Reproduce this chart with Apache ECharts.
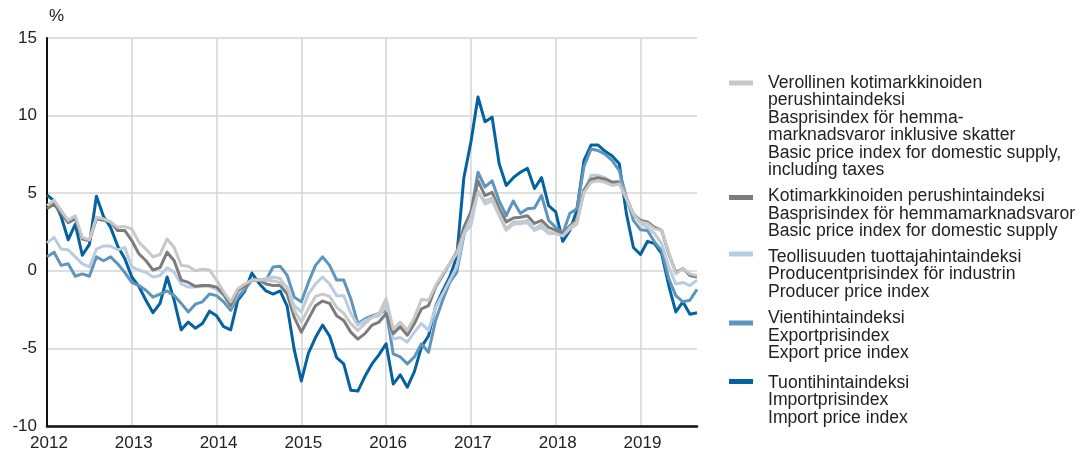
<!DOCTYPE html>
<html>
<head>
<meta charset="utf-8">
<script src="https://cdn.jsdelivr.net/npm/echarts@6/dist/echarts.min.js"></script>
<style>
html,body{margin:0;padding:0;background:#fff;}
#chart{width:1089px;height:455px;}
</style>
</head>
<body>
<div id="chart"></div>
<script>
// Tick labels (years) and y ticks
var years = ['2012','2013','2014','2015','2016','2017','2018','2019'];
var monthCount = 93; // Jan 2012 .. Sep 2019
var yMin = -10, yMax = 15, yStep = 5;

// Legend texts
var legendTexts = [
  'Verollinen kotimarkkinoiden\nperushintaindeksi\nBasprisindex för hemma-\nmarknadsvaror inklusive skatter\nBasic price index for domestic supply,\nincluding taxes',
  'Kotimarkkinoiden perushintaindeksi\nBasprisindex för hemmamarknadsvaror\nBasic price index for domestic supply',
  'Teollisuuden tuottajahintaindeksi\nProducentprisindex för industrin\nProducer price index',
  'Vientihintaindeksi\nExportprisindex\nExport price index',
  'Tuontihintaindeksi\nImportprisindex\nImport price index'
];

// Series values (% annual change), monthly
var domesticInclTaxes = [4.2,4.55,3.9,3.25,3.55,2.15,2.0,3.45,3.35,3.15,2.8,2.85,
2.7,1.85,1.4,0.9,1.05,2.05,1.5,0.35,0.3,0.0,0.1,0.05,
-0.6,-1.35,-2.0,-1.15,-0.85,-0.6,-0.6,-0.6,-0.65,-0.75,-1.05,-2.55,
-3.3,-2.45,-1.65,-1.5,-1.65,-2.35,-2.75,-3.4,-3.85,-3.4,-3.0,-2.75,
-1.8,-3.75,-3.3,-3.85,-3.0,-1.85,-1.9,-0.95,-0.2,0.45,1.1,2.4,
3.45,5.05,4.5,4.7,3.65,2.7,3.15,3.15,3.25,2.7,3.0,2.5,
2.4,2.25,2.8,3.15,5.05,5.7,5.8,5.7,5.5,5.6,4.65,3.65,
3.15,3.05,2.7,2.6,1.2,-0.2,0.15,-0.2,-0.3];

var domesticSupply = [4.0,4.3,3.7,3.1,3.35,2.05,1.95,3.35,3.25,3.15,2.6,2.6,
1.95,1.1,0.65,0.05,0.2,1.2,0.65,-0.6,-0.75,-1.0,-0.95,-0.95,
-1.05,-1.5,-2.25,-1.25,-1.0,-0.6,-0.6,-0.85,-0.95,-0.95,-1.5,-3.0,
-3.95,-3.1,-2.25,-1.95,-2.1,-2.9,-3.2,-3.95,-4.4,-4.05,-3.5,-3.3,
-2.75,-4.05,-3.6,-4.15,-3.4,-2.45,-2.25,-1.05,-0.3,0.45,1.2,2.8,
3.8,5.8,4.85,5.05,4.0,3.15,3.4,3.45,3.55,3.05,3.25,2.8,
2.6,2.4,2.9,3.25,5.2,5.9,6.0,5.9,5.7,5.7,4.65,3.65,
3.25,3.15,2.8,2.6,1.1,-0.1,0.15,-0.3,-0.4];

var producer = [1.8,2.15,1.4,1.35,0.9,0.45,0.25,1.4,1.6,1.6,1.35,1.5,
0.25,0.05,-0.1,-0.4,-0.3,0.2,-0.1,-0.85,-1.05,-1.05,-1.0,-1.0,
-1.2,-1.6,-2.3,-1.4,-1.0,-0.6,-0.6,-0.5,-0.4,-0.5,-1.15,-2.25,
-2.65,-1.5,-0.85,-0.4,-0.85,-1.6,-1.6,-2.75,-3.5,-3.2,-3.0,-2.9,
-2.25,-4.4,-4.3,-4.6,-3.95,-3.4,-3.85,-2.35,-1.5,-0.6,0.25,2.4,
2.9,5.15,4.3,4.5,3.55,2.6,3.0,3.05,3.1,2.6,2.8,2.4,
2.4,2.25,2.7,3.0,5.15,6.15,6.15,6.0,5.7,5.8,4.75,3.65,
3.05,2.8,2.4,1.75,0.25,-0.85,-0.75,-0.95,-0.6];

var exportIdx = [0.9,1.2,0.35,0.45,-0.35,-0.2,-0.35,0.9,0.65,0.9,0.45,-0.1,
-0.75,-0.95,-1.25,-1.7,-1.5,-1.3,-1.6,-2.1,-2.65,-2.15,-2.0,-1.5,
-1.6,-2.0,-2.55,-1.7,-1.2,-0.6,-0.6,-0.6,0.25,0.3,-0.3,-1.7,
-2.0,-0.75,0.35,0.9,0.35,-0.6,-0.6,-1.8,-3.4,-3.1,-2.9,-2.75,
-2.55,-5.35,-5.55,-6.0,-5.55,-4.7,-5.25,-3.2,-1.9,-0.75,-0.1,2.3,
3.7,6.35,5.4,5.8,4.5,3.55,4.5,3.7,4.0,4.05,4.85,3.25,
2.8,2.4,3.7,4.0,6.7,7.85,7.75,7.5,7.1,6.45,4.75,3.25,
2.65,2.6,1.85,1.3,-0.5,-1.6,-2.0,-1.9,-1.2];

var importIdx = [4.9,4.5,3.5,2.0,3.0,1.0,1.7,4.8,3.5,2.8,1.6,0.8,
-0.4,-1.0,-1.9,-2.7,-2.1,-0.4,-1.9,-3.8,-3.3,-3.7,-3.4,-2.6,
-2.9,-3.6,-3.8,-1.9,-1.3,-0.15,-0.8,-1.3,-1.5,-1.3,-2.3,-5.1,
-7.1,-5.3,-4.3,-3.5,-4.2,-5.6,-6.0,-7.7,-7.75,-6.8,-6.0,-5.4,
-4.7,-7.3,-6.7,-7.5,-6.5,-4.9,-4.2,-2.3,-1.3,-0.4,0.9,6.0,
8.3,11.2,9.6,9.9,6.9,5.5,6.0,6.35,6.6,5.3,6.0,4.2,
3.8,1.9,2.6,3.9,7.1,8.1,8.1,7.7,7.4,6.9,3.7,1.5,
1.05,1.9,1.75,1.1,-0.95,-2.65,-2.0,-2.8,-2.7];

// Build options
var categories = [];
for (var y = 0; y < years.length; y++) {
  for (var m = 1; m <= 12; m++) {
    if (categories.length < monthCount) categories.push(years[y] + 'M' + (m < 10 ? '0' + m : m));
  }
}
var colors = ['#c8c8c8', '#7c7c7c', '#b9cde1', '#5f95bd', '#0562a0'];
var FONT = '"Liberation Sans", Arial, Helvetica, sans-serif';
var seriesValues = [domesticInclTaxes, domesticSupply, producer, exportIdx, importIdx];

var series = [];
for (var s = seriesValues.length - 1; s >= 0; s--) {
  series.push({
    name: legendTexts[s].split('\n')[0],
    type: 'line',
    data: seriesValues[s],
    showSymbol: false,
    symbol: 'none',
    lineStyle: { color: colors[s], width: 3, join: 'round' },
    itemStyle: { color: colors[s] },
    z: 3
  });
}

// Legend as graphic elements
var legendTops = [74, 187.5, 248, 309.5, 374];
var swatchY = [83, 197.5, 254, 323, 381.5];
var graphics = [];
for (var k = 0; k < legendTexts.length; k++) {
  graphics.push({
    type: 'rect', left: 729, top: swatchY[k] - 2.5,
    shape: { width: 24, height: 5 },
    style: { fill: colors[k] }
  });
  graphics.push({
    type: 'text', left: 768, top: legendTops[k],
    style: {
      text: legendTexts[k], fill: '#222', fontSize: 17.6, fontFamily: FONT,
      lineHeight: 17.5
    }
  });
}

var chart = echarts.init(document.getElementById('chart'), null, { renderer: 'canvas' });
chart.setOption({
  animation: false,
  backgroundColor: '#ffffff',
  grid: { left: 47, right: 392, top: 38, bottom: 29, containLabel: false },
  xAxis: {
    type: 'category',
    data: categories,
    boundaryGap: false,
    axisLine: { show: true, onZero: false, lineStyle: { color: '#111', width: 2.5 } },
    axisTick: { show: false },
    axisLabel: {
      interval: function (idx) { return idx % 12 === 0; },
      formatter: function (v) { return v.slice(0, 4); },
      color: '#222', fontSize: 17, fontFamily: FONT, margin: 9, padding: [0, 0, 0, 4]
    },
    splitLine: {
      show: true,
      interval: function (idx) { return idx % 12 === 0 && idx !== 0; },
      lineStyle: { color: '#d4d4d4', width: 1.5 }
    }
  },
  yAxis: {
    type: 'value',
    min: yMin, max: yMax, interval: yStep,
    name: '%',
    nameLocation: 'end',
    nameGap: 13,
    nameTextStyle: { color: '#222', fontSize: 17, fontFamily: FONT, align: 'left', padding: [0, 0, 0, 2] },
    axisLine: { show: true, lineStyle: { color: '#111', width: 2 } },
    axisTick: { show: false },
    axisLabel: { color: '#222', fontSize: 17, fontFamily: FONT, margin: 10 },
    splitLine: { show: true, lineStyle: { color: '#d4d4d4', width: 1.5 } }
  },
  series: series,
  graphic: graphics
});
</script>
</body>
</html>
